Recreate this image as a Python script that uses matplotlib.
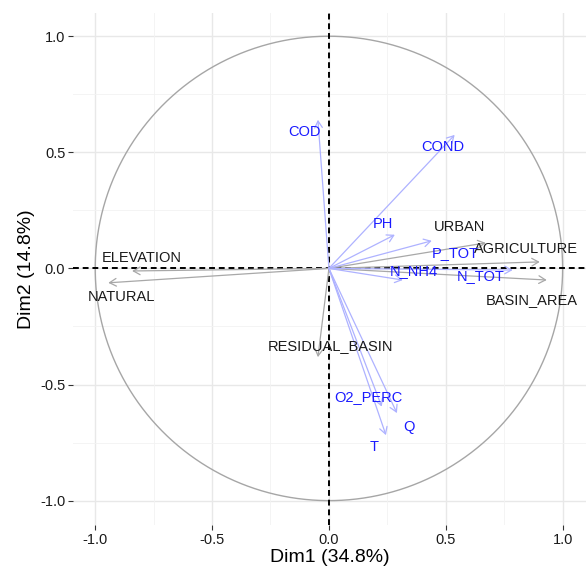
import numpy as np
import matplotlib
matplotlib.use('Agg')
import matplotlib.pyplot as plt

plt.rcParams['font.family'] = ['Liberation Sans', 'DejaVu Sans']

# Variable coordinates on Dim1 / Dim2
active_names = ['COD', 'COND', 'PH', 'P_TOT', 'N_NH4', 'N_TOT', 'O2_PERC', 'Q', 'T']
active_dim1 = [-0.047, 0.538, 0.282, 0.440, 0.316, 0.786, 0.226, 0.291, 0.244]
active_dim2 = [0.640, 0.575, 0.145, 0.119, -0.050, -0.007, -0.595, -0.623, -0.718]

sup_names = ['URBAN', 'AGRICULTURE', 'BASIN_AREA', 'ELEVATION', 'NATURAL', 'RESIDUAL_BASIN']
sup_dim1 = [0.671, 0.902, 0.932, -0.842, -0.944, -0.047]
sup_dim2 = [0.110, 0.028, -0.050, -0.011, -0.062, -0.382]

# label offsets from arrow tip (data units)
label_offset = {
    'COD': (-0.056, -0.053), 'COND': (-0.052, -0.052), 'PH': (-0.052, 0.047),
    'P_TOT': (0.100, -0.053), 'N_NH4': (0.048, 0.039), 'N_TOT': (-0.135, -0.026),
    'O2_PERC': (-0.056, 0.041), 'Q': (0.052, -0.061), 'T': (-0.052, -0.052),
    'URBAN': (-0.113, 0.069), 'AGRICULTURE': (-0.060, 0.057),
    'BASIN_AREA': (-0.065, -0.087), 'ELEVATION': (0.040, 0.057),
    'NATURAL': (0.056, -0.061), 'RESIDUAL_BASIN': (0.052, 0.048),
}

ticks = [-1.0, -0.5, 0.0, 0.5, 1.0]
minor = [-0.75, -0.25, 0.25, 0.75]

fig = plt.figure(figsize=(5.86, 5.71), dpi=100)
ax = fig.add_axes([73 / 586, 46 / 571, 513 / 586, 512 / 571])

ax.set_xlim(-1.095, 1.10)
ax.set_ylim(-1.105, 1.10)

# grid like theme_minimal
for v in ticks:
    ax.axvline(v, color='#e8e8e8', lw=1.0, zorder=0)
    ax.axhline(v, color='#e8e8e8', lw=1.0, zorder=0)
for v in minor:
    ax.axvline(v, color='#f2f2f2', lw=0.6, zorder=0)
    ax.axhline(v, color='#f2f2f2', lw=0.6, zorder=0)

# correlation circle
t = np.linspace(0, 2 * np.pi, 200)
ax.plot(np.cos(t), np.sin(t), color='#a6a6a6', lw=1.0, zorder=1)

# zero lines
ax.axhline(0, color='black', lw=1.4, ls=(0, (3, 2)), zorder=2)
ax.axvline(0, color='black', lw=1.4, ls=(0, (3, 2)), zorder=2)

def draw(names, xs, ys, arrow_col, text_col):
    for n, x, y in zip(names, xs, ys):
        ax.annotate('', xy=(x, y), xytext=(0, 0),
                    arrowprops=dict(arrowstyle='->,head_length=0.4,head_width=0.23',
                                    color=arrow_col, lw=0.9, shrinkA=0, shrinkB=0,
                                    mutation_scale=12), zorder=3)
        dx, dy = label_offset[n]
        ax.text(x + dx, y + dy, n, color=text_col, fontsize=10.5,
                ha='center', va='center', zorder=4)

draw(sup_names, sup_dim1, sup_dim2, '#a8a8a8', '#1a1a1a')
draw(active_names, active_dim1, active_dim2, '#aeb2ff', '#1a1aff')

ax.set_xticks(ticks)
ax.set_yticks(ticks)
ax.set_xticklabels(['-1.0', '-0.5', '0.0', '0.5', '1.0'])
ax.set_yticklabels(['-1.0', '-0.5', '0.0', '0.5', '1.0'])
ax.tick_params(length=3.5, width=0.8, color='#333333', labelsize=10.5,
               labelcolor='#1a1a1a', pad=2)
for s in ax.spines.values():
    s.set_visible(False)

ax.set_xlabel('Dim1 (34.8%)', fontsize=14, labelpad=2)
ax.set_ylabel('Dim2 (14.8%)', fontsize=14, labelpad=4)

fig.savefig('out.png', dpi=100)
